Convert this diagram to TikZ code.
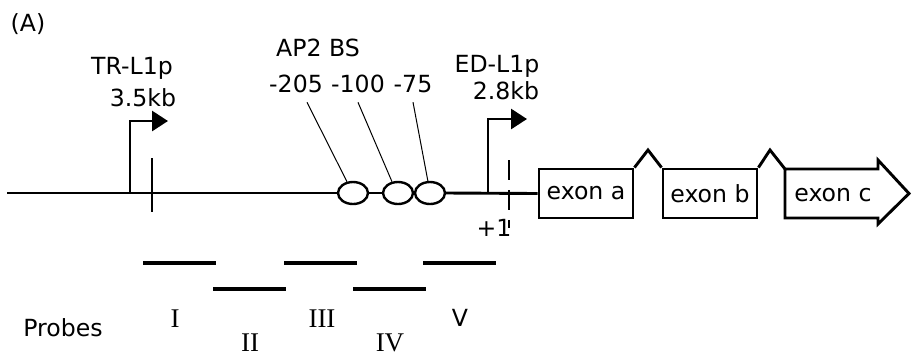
\documentclass[tikz,border=0pt]{standalone}
\usepackage{fontspec}
\setmainfont{DejaVu Sans}
\newfontfamily\romfont{Liberation Serif}
\usetikzlibrary{arrows.meta,shapes.geometric}

\begin{document}
\begin{tikzpicture}[x=0.5pt, y=-0.5pt,
		every node/.style={font=\fontsize{11.8}{13}\selectfont, inner sep=0pt},
		dna/.style={line width=1.45pt},
		prom/.style={line width=1.45pt, -{Triangle[length=8pt,width=10pt]}},
		bsite/.style={ellipse, draw, line width=1.2pt, minimum width=15pt, minimum height=11pt},
		leader/.style={line width=0.5pt},
		exon/.style={draw, line width=1.45pt, minimum width=47pt, minimum height=24.5pt},
		probe/.style={line width=1.6pt},
		roman/.style={font=\romfont\fontsize{13.5}{15}\selectfont}]
	\useasboundingbox (0,0) rectangle (912,361);

	\node (lab) at (28,24) {(A)};

	% promoters
	\node (trname) at (132,68) {TR-L1p};
	\node (trsize) at (143,98) {3.5kb};
	\node (edname) at (497,66) {ED-L1p};
	\node (edsize) at (506,91) {2.8kb};
	\coordinate (trp) at (130,193);
	\coordinate (trtip) at (168,121);
	\coordinate (edp) at (488,193);
	\coordinate (edtip) at (527,119);

	% AP2 binding sites
	\node (ap2) at (318,48) {AP2 BS};
	\node (m205) at (296,84) {-205};
	\node (m100) at (358,84) {-100};
	\node (m75) at (413,84) {-75};
	\node[bsite] (bs1) at (353,193) {};
	\node[bsite] (bs2) at (398,193) {};
	\node[bsite] (bs3) at (430,193) {};

	% exons
	\node[exon] (exa) at (586,193.5) {exon a};
	\node[exon] (exb) at (710,193.5) {exon b};
	\coordinate (exc) at (785,169);
	\node (exclab) at (833,195) {exon c};
	\node (plus) at (494,228) {+1};

	\coordinate (start) at (7,193);
	\draw[dna] (start) -- (bs1.west);
	\draw[dna] (bs1.east) -- (bs2.west);
	\draw[dna] (bs3.east) -- (exa.west);
	\draw[prom] (trp) |- (trtip);
	\draw[prom] (edp) |- (edtip);
	\draw[dna] (152,158) -- (152,212);
	\draw[dna, dash pattern=on 10pt off 5pt] (509,160) -- (509,228);

	\draw[leader] ([shift={(11,9)}]m205.south) -- (bs1.118);
	\draw[leader] ([shift={(0,9)}]m100.south) -- (bs2.118);
	\draw[leader] ([shift={(0,9)}]m75.south) -- (bs3.100);

	\draw[dna, line join=miter] (exc) -- (878,169) -- (878,160) -- (909,193.5)
		-- (878,224) -- (878,218) -- (785,218) -- cycle;
	\draw[dna] (exa.north east) -- (648,150) -- (exb.north west);
	\draw[dna] (exb.north east) -- (770,150) -- (exc);

	% probes
	\draw[probe] (143,263) -- (216,263);
	\draw[probe] (213,289) -- (286,289);
	\draw[probe] (284,263) -- (357,263);
	\draw[probe] (353,289) -- (426,289);
	\draw[probe] (423,263) -- (496,263);
	\node (probes) at (63,328) {Probes};
	\node[roman] (p1) at (175,319) {I};
	\node[roman] (p2) at (250,343) {II};
	\node[roman] (p3) at (322,319) {III};
	\node[roman] (p4) at (390,343) {IV};
	\node (p5) at (460,318) {V};
\end{tikzpicture}
\end{document}
